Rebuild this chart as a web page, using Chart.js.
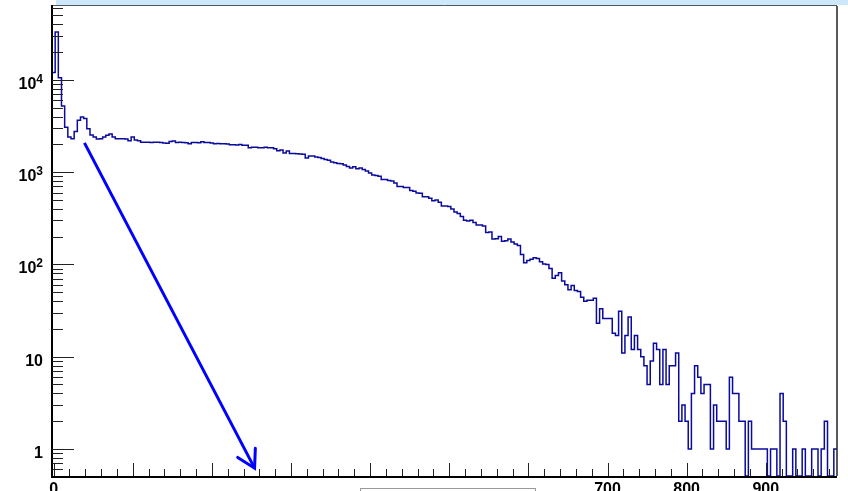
<!DOCTYPE html>
<html>
<head>
<meta charset="utf-8">
<script src="https://cdn.jsdelivr.net/npm/chart.js@4"></script>
<style>
  html, body { margin: 0; padding: 0; background: #fff; }
  #box { width: 848px; height: 491px; }
</style>
</head>
<body>
<div id="box"><canvas id="histo"></canvas></div>
<script>
// histogram: 248 bins of width 4, first bin starts at -2
const binStart = -2;
const binWidth = 4;
const counts = [
  12000, 33000, 10500, 5200, 3060, 2400, 2300, 2750, 3650, 3950,
  3800, 2950, 2520, 2400, 2280, 2290, 2400, 2500, 2590, 2400,
  2300, 2300, 2300, 2280, 2190, 2400, 2220, 2180, 2110, 2100,
  2100, 2090, 2110, 2100, 2090, 2060, 2050, 2150, 2170, 2090,
  2100, 2090, 2080, 2030, 2090, 2090, 2080, 2130, 2090, 2090,
  2060, 2030, 2040, 2030, 2030, 2020, 1975, 1975, 1970, 1990,
  1950, 1950, 1830, 1860, 1860, 1830, 1830, 1860, 1830, 1830,
  1790, 1700, 1730, 1610, 1690, 1590, 1590, 1580, 1570, 1560,
  1420, 1490, 1490, 1460, 1440, 1400, 1365, 1340, 1290, 1260,
  1240, 1230, 1190, 1150, 1110, 1140, 1090, 1110, 1070, 1030,
  975, 930, 920, 900, 830, 830, 810, 800, 760, 700,
  700, 680, 680, 630, 620, 595, 590, 540, 540, 520,
  490, 500, 470, 430, 430, 425, 397, 370, 355, 330,
  300, 295, 300, 285, 267, 267, 260, 222, 225, 188,
  190, 200, 178, 180, 188, 175, 166, 160, 128, 104,
  110, 114, 118, 116, 107, 101, 100, 90, 71, 76,
  81, 66, 60, 53, 59, 52, 51, 44, 40, 41,
  41, 43, 23, 33, 26, 26, 26, 18, 17, 31,
  11, 17, 27, 12, 17, 12, 10, 8, 5, 9,
  14, 12, 5, 12, 5, 8, 8, 11, 2, 3,
  2, 1, 4, 8, 6, 4, 5, 5, 1, 3,
  2, 2, 2, 1, 6, 4, 4, 2, 2, 0,
  2, 1, 1, 1, 1, 1, 0, 1, 1, 0,
  4, 2, 0, 0, 1, 0, 0, 1, 0, 0,
  1, 1, 0, 1, 2, 0, 0, 1
];

// arrow drawn on top, in data units
const arrowX = [39, 254];
const arrowY = [2070, 0.62];

const xTickLabels = [0, 700, 800, 900];
const yTickValues = [1, 10, 100, 1000, 10000];
const yTickLabels = ['1', '10', '10^2', '10^3', '10^4'];

const xMin = -2, xMax = 990;
const yMin = 0.51, yMax = 63000;

// empty bins sit on the bottom of the log axis
const histPoints = counts.map((c, i) => ({ x: binStart + i * binWidth, y: c > 0 ? c : yMin }));
histPoints.push({ x: binStart + counts.length * binWidth, y: counts[counts.length - 1] || yMin });

const labelFont = 'bold 16px "Liberation Sans", Arial, sans-serif';
const expFont = 'bold 12px "Liberation Sans", Arial, sans-serif';

const rootFrame = {
  id: 'rootFrame',
  beforeDraw(chart) {
    const c = chart.ctx;
    c.save();
    c.fillStyle = '#cde8fa';
    c.fillRect(56, 0, chart.width - 56, 5);
    c.restore();
  },
  afterDraw(chart) {
    const c = chart.ctx;
    const a = chart.chartArea;
    const xs = chart.scales.x;
    const ys = chart.scales.y;
    c.save();

    // arrow head
    const pts = chart.getDatasetMeta(1).data;
    const p0 = pts[0], p1 = pts[pts.length - 1];
    const ang = Math.atan2(p1.y - p0.y, p1.x - p0.x) + Math.PI;
    c.strokeStyle = '#0000ff';
    c.lineWidth = 3;
    c.lineCap = 'round';
    c.beginPath();
    c.moveTo(p1.x + 20 * Math.cos(ang - 0.52), p1.y + 20 * Math.sin(ang - 0.52));
    c.lineTo(p1.x, p1.y);
    c.lineTo(p1.x + 20 * Math.cos(ang + 0.52), p1.y + 20 * Math.sin(ang + 0.52));
    c.stroke();
    c.lineCap = 'butt';

    // frame
    c.strokeStyle = '#555';
    c.lineWidth = 1;
    c.beginPath();
    c.moveTo(a.left, a.top - 0.5);
    c.lineTo(a.right, a.top - 0.5);
    c.stroke();
    c.strokeStyle = '#222';
    c.lineWidth = 1.5;
    c.beginPath();
    c.moveTo(a.right, a.top);
    c.lineTo(a.right, a.bottom);
    c.stroke();
    c.strokeStyle = '#000';
    c.lineWidth = 2;
    c.beginPath();
    c.moveTo(a.left, a.top - 1);
    c.lineTo(a.left, a.bottom + 1);
    c.lineTo(a.right, a.bottom + 1);
    c.stroke();

    // y ticks (inside)
    c.strokeStyle = '#222';
    c.lineWidth = 1;
    c.beginPath();
    for (let d = -1; d <= 4; d++) {
      for (let m = 1; m <= 9; m++) {
        const v = m * Math.pow(10, d);
        if (v < ys.min || v > ys.max) continue;
        const y = Math.round(ys.getPixelForValue(v)) + 0.5;
        c.moveTo(a.left, y);
        c.lineTo(a.left + (m === 1 ? 22 : 11), y);
      }
    }
    // x ticks (inside)
    for (let v = 0; v <= xs.max; v += 20) {
      const x = Math.round(xs.getPixelForValue(v)) + 0.5;
      c.moveTo(x, a.bottom);
      c.lineTo(x, a.bottom - (v % 100 === 0 ? 13 : 7));
    }
    c.stroke();

    // y labels
    c.fillStyle = '#000';
    c.textAlign = 'right';
    c.textBaseline = 'alphabetic';
    yTickValues.forEach((v, i) => {
      const y = ys.getPixelForValue(v);
      const parts = yTickLabels[i].split('^');
      let right = 43;
      if (parts.length > 1) {
        c.font = expFont;
        c.fillText(parts[1], right, y + 3);
        right -= c.measureText(parts[1]).width;
      }
      c.font = labelFont;
      c.fillText(parts[0], right, y + 9);
    });

    // x labels
    c.textAlign = 'center';
    c.font = labelFont;
    xTickLabels.forEach(v => {
      c.fillText(String(v), xs.getPixelForValue(v), a.bottom + 18);
    });

    // box at the bottom
    c.fillStyle = '#fff';
    c.fillRect(360.5, 488.5, 175, 10);
    c.strokeStyle = '#999';
    c.lineWidth = 1;
    c.strokeRect(360.5, 488.5, 175, 10);

    c.restore();
  }
};

const ctx = document.getElementById('histo');

new Chart(ctx, {
  type: 'line',
  data: {
    datasets: [
      {
        data: histPoints,
        stepped: true,
        borderColor: '#0a0a9c',
        borderWidth: 1.5,
        pointRadius: 0,
        fill: false,
      },
      {
        data: arrowX.map((x, i) => ({ x: x, y: arrowY[i] })),
        borderColor: '#0000ff',
        borderWidth: 3,
        pointRadius: 0,
        fill: false,
      }
    ]
  },
  options: {
    responsive: true,
    maintainAspectRatio: false,
    animation: false,
    layout: {
      padding: { left: 52, top: 6, right: 11, bottom: 15 }
    },
    plugins: {
      legend: { display: false },
      tooltip: { enabled: false }
    },
    scales: {
      x: { type: 'linear', min: xMin, max: xMax, display: false },
      y: { type: 'logarithmic', min: yMin, max: yMax, display: false }
    }
  },
  plugins: [rootFrame]
});
</script>
</body>
</html>
